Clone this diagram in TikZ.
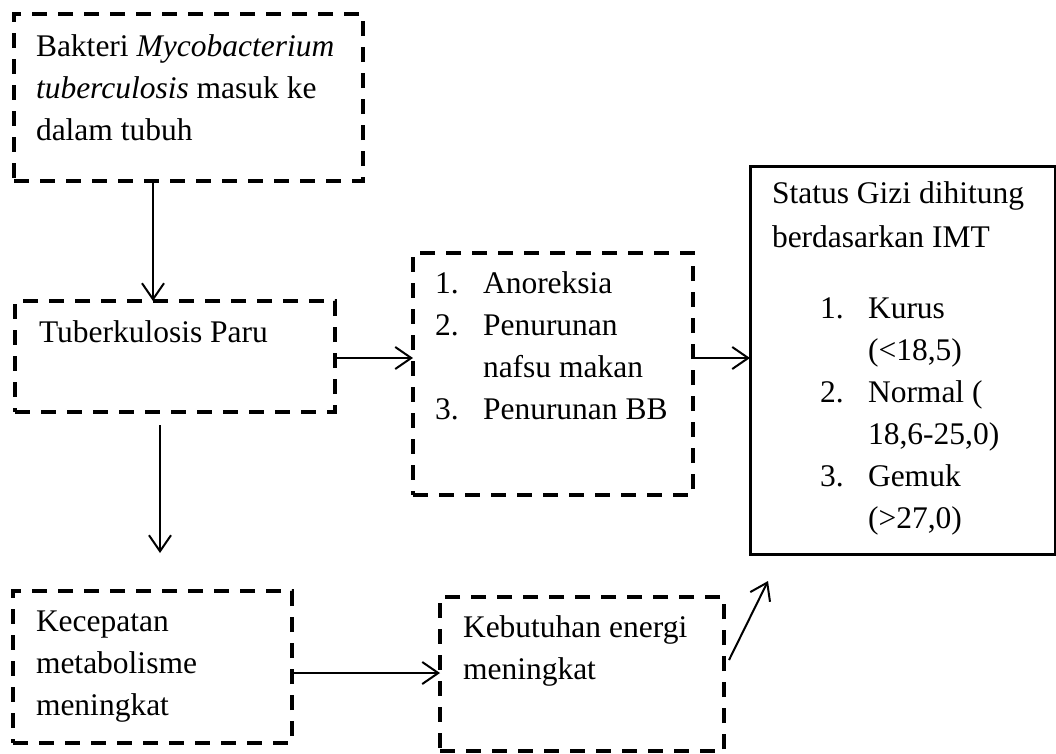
\documentclass[tikz,border=0pt]{standalone}
\usepackage{fontspec}
\setmainfont{Liberation Serif}
\usetikzlibrary{arrows.meta}
\begin{document}
\begin{tikzpicture}[x=1pt,y=-1pt,
  dbox/.style={draw, rectangle, dash pattern=on 15pt off 11pt, line width=3.5pt, inner sep=0pt, outer sep=0pt},
  sbox/.style={draw, rectangle, line width=3pt, inner sep=0pt, outer sep=0pt},
  txt/.style={anchor=base west, inner sep=0pt, outer sep=0pt, font=\fontsize{31.5}{42}\selectfont},
  arr/.style={line width=2pt, -{Straight Barb[length=16pt,width=22pt]}}]
\useasboundingbox (0,0) rectangle (1056,753);

% boxes
\node[dbox, minimum width=349pt, minimum height=167pt] (b1) at (188.5,97.5) {};
\node[dbox, minimum width=320pt, minimum height=111pt] (b2) at (175,356.5) {};
\node[dbox, minimum width=280pt, minimum height=242pt] (b3) at (553,374) {};
\node[sbox, minimum width=305pt, minimum height=388pt] (b4) at (902.5,360) {};
\node[dbox, minimum width=279pt, minimum height=152pt] (b5) at (152.5,667) {};
\node[dbox, minimum width=284pt, minimum height=154pt] (b6) at (582,674) {};

% texts box 1
\node[txt] (t1a) at (36,56) {Bakteri \textit{Mycobacterium}};
\node[txt] (t1b) at (36,98) {\textit{tuberculosis} masuk ke};
\node[txt] (t1c) at (36,140) {dalam tubuh};
% box 2
\node[txt] (t2) at (39,342) {Tuberkulosis Paru};
% box 3
\node[txt] (t3n1) at (435,293) {1.};
\node[txt] (t3a) at (483,293) {Anoreksia};
\node[txt] (t3n2) at (435,335) {2.};
\node[txt] (t3b) at (483,335) {Penurunan};
\node[txt] (t3c) at (483,377) {nafsu makan};
\node[txt] (t3n3) at (435,419) {3.};
\node[txt] (t3d) at (483,419) {Penurunan BB};
% box 4
\node[txt] (t4a) at (772,203) {Status Gizi dihitung};
\node[txt] (t4b) at (772,247) {berdasarkan IMT};
\node[txt] (t4n1) at (820,318) {1.};
\node[txt] (t4c) at (868,318) {Kurus};
\node[txt] (t4d) at (868,360) {(<18,5)};
\node[txt] (t4n2) at (820,402) {2.};
\node[txt] (t4e) at (868,402) {Normal (};
\node[txt] (t4f) at (868,444) {18,6-25,0)};
\node[txt] (t4n3) at (820,486) {3.};
\node[txt] (t4g) at (868,486) {Gemuk};
\node[txt] (t4h) at (868,528) {(>27,0)};
% box 5
\node[txt] (t5a) at (36,631) {Kecepatan};
\node[txt] (t5b) at (36,673) {metabolisme};
\node[txt] (t5c) at (36,715) {meningkat};
% box 6
\node[txt] (t6a) at (463,637) {Kebutuhan energi};
\node[txt] (t6b) at (463,679) {meningkat};

% connectors
\coordinate (a1) at (153,0);
\draw[arr] (a1 |- b1.south) -- (a1 |- b2.north);
\coordinate (a2) at (0,358);
\draw[arr] (b2.east |- a2) -- (b3.west |- a2);
\draw[arr] (b3.east |- a2) -- (b4.west |- a2);
\coordinate (d1) at (160,425);
\coordinate (d2) at (160,553);
\draw[arr] (d1) -- (d2);
\coordinate (a5) at (0,673);
\draw[arr] (b5.east |- a5) -- (b6.west |- a5);
\coordinate (e1) at (729,660);
\coordinate (e2) at (768,581);
\draw[arr] (e1) -- (e2);
\end{tikzpicture}
\end{document}
